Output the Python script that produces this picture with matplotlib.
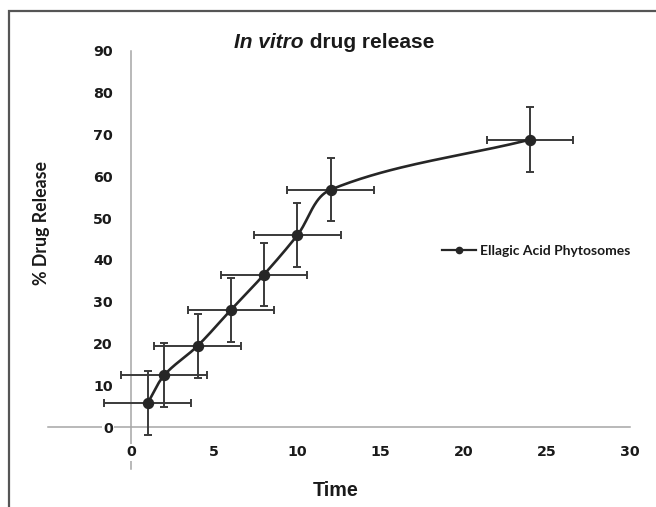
import numpy as np
import matplotlib
matplotlib.use("Agg")
import matplotlib.pyplot as plt
from matplotlib.lines import Line2D
from matplotlib.patches import Rectangle

# ---- data ----
time = [1, 2, 4, 6, 8, 10, 12, 24]
release = [5.7, 12.4, 19.4, 28.0, 36.5, 45.9, 56.8, 68.8]
release_err = [7.7, 7.6, 7.6, 7.7, 7.6, 7.7, 7.6, 7.7]
time_err = [2.6, 2.6, 2.6, 2.6, 2.6, 2.6, 2.6, 2.6]
x_ticks = [0, 5, 10, 15, 20, 25, 30]
y_ticks = [0, 10, 20, 30, 40, 50, 60, 70, 80, 90]
series_name = "Ellagic Acid Phytosomes"

W, H = 656, 507
DPI = 100
fig = plt.figure(figsize=(W / DPI, H / DPI), dpi=DPI)

def fx(px):
    return px / W

def fy(py):
    return 1 - py / H

left_px, right_px, top_px, bottom_px = 47.8, 630.0, 51.0, 468.8
ax = fig.add_axes([fx(left_px), fy(bottom_px), fx(right_px - left_px), (bottom_px - top_px) / H])
ax.set_xlim(-5, 30)
ax.set_ylim(-10, 90)

line_c = "#262626"
err_c = "#3a3a3a"
axis_c = "#a6a6a6"


def smooth_curve(xs, ys, n=40, k=1.0 / 3.0):
    # smoothing done in screen space, tangent lengths scaled by chord length
    P = ax.transData.transform(np.column_stack([xs, ys]).astype(float))

    def unit(v):
        nv = np.hypot(*v)
        return v / nv if nv > 0 else v

    out = []
    for i in range(len(P) - 1):
        p0 = P[i - 1] if i > 0 else P[i]
        p1 = P[i]
        p2 = P[i + 1]
        p3 = P[i + 2] if i + 2 < len(P) else P[i + 1]
        L = np.hypot(*(p2 - p1))
        c1 = p1 + unit(p2 - p0) * L * k
        c2 = p2 - unit(p3 - p1) * L * k
        t = np.linspace(0, 1, n)[:, None]
        seg = (1 - t) ** 3 * p1 + 3 * (1 - t) ** 2 * t * c1 + 3 * (1 - t) * t ** 2 * c2 + t ** 3 * p2
        out.append(seg if i == 0 else seg[1:])
    return ax.transData.inverted().transform(np.vstack(out))

ax.errorbar(time, release, xerr=time_err, yerr=release_err, fmt="none",
            ecolor=err_c, elinewidth=1.4, capsize=2.9, capthick=1.4, zorder=2)
sc = smooth_curve(time, release)
ax.plot(sc[:, 0], sc[:, 1], color=line_c, lw=1.9, zorder=3, solid_capstyle="round")
ax.plot(time, release, "o", color=line_c, ms=7.2, zorder=4)

# axes through origin
for s in ["top", "right"]:
    ax.spines[s].set_visible(False)
ax.spines["left"].set_position(("data", 0))
ax.spines["bottom"].set_position(("data", 0))
for s in ["left", "bottom"]:
    ax.spines[s].set_color(axis_c)
    ax.spines[s].set_linewidth(1.1)
    ax.spines[s].set_zorder(0.5)

ax.set_xticks(x_ticks)
ax.set_yticks(y_ticks)
ax.tick_params(axis="both", length=0, labelsize=10.3, labelcolor="#1a1a1a")
ax.tick_params(axis="y", pad=13)
ax.tick_params(axis="x", pad=13)
for lab in ax.get_xticklabels() + ax.get_yticklabels():
    lab.set_fontweight("bold")
    lab.set_fontfamily("DejaVu Sans")
    lab.set_bbox(dict(facecolor="white", edgecolor="none", pad=1.0))
    lab.set_zorder(5)

# legend
handle = Line2D([0], [0], color=line_c, lw=1.6, marker="o", ms=4.5)
leg = ax.legend([handle], [series_name], loc="center left",
                bbox_to_anchor=(fx(429.5), fy(251)), bbox_transform=fig.transFigure,
                frameon=False, handlelength=2.45, handletextpad=0.3,
                prop={"family": "Lato", "weight": "bold", "size": 10})
for t in leg.get_texts():
    t.set_color("#1a1a1a")

# axis titles
fig.text(fx(41), fy(223), "% Drug Release", rotation=90, ha="center", va="center",
         fontsize=12.8, fontweight="bold", family="Lato", color="#1a1a1a")
fig.text(fx(336), fy(490), "Time", ha="center", va="center",
         fontsize=14.2, fontweight="bold", family="Liberation Sans", color="#1a1a1a")

# title with mixed italic
t1 = fig.text(0, fy(43), "In vitro", ha="left", va="center", fontsize=15,
              fontweight="bold", fontstyle="italic", family="Liberation Sans", color="#1a1a1a")
t2 = fig.text(0, fy(43), " drug release", ha="left", va="center", fontsize=15,
              fontweight="bold", family="Liberation Sans", color="#1a1a1a")
fig.canvas.draw()
r = fig.canvas.get_renderer()
w1 = t1.get_window_extent(r).width
w2 = t2.get_window_extent(r).width
start = 334 - (w1 + w2) / 2
t1.set_x(fx(start))
t2.set_x(fx(start + w1))

# outer frame (partly cropped)
fig.patches.append(Rectangle((fx(8.5), fy(530)), fx(700), (530 - 10.5) / H,
                             transform=fig.transFigure, fill=False,
                             edgecolor="#555555", lw=1.6, zorder=10))

fig.savefig("out.png", dpi=DPI)
